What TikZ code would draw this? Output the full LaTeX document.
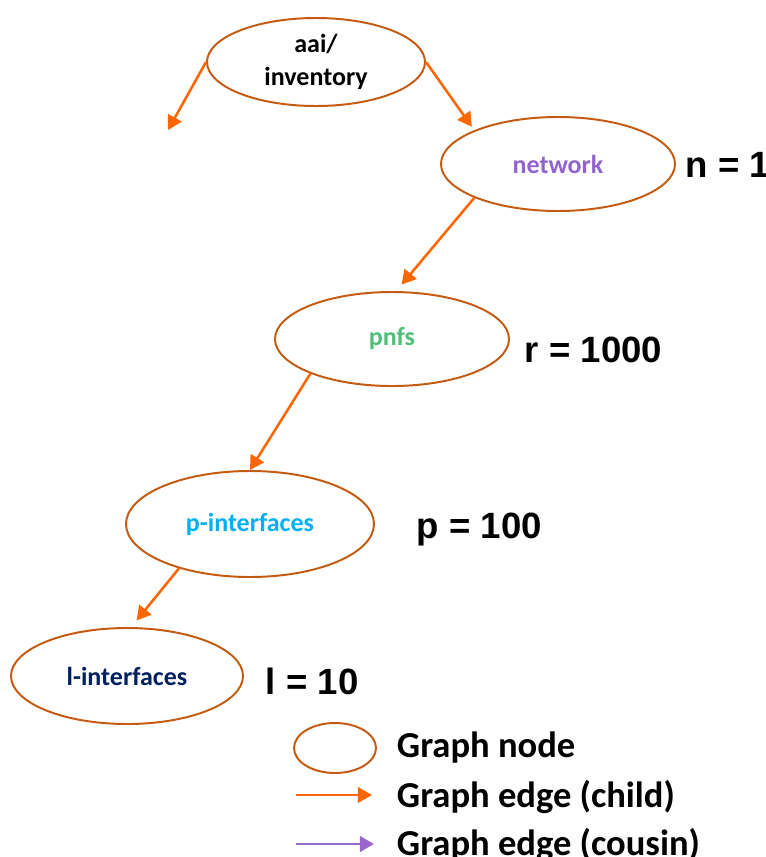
\documentclass[tikz,border=0pt]{standalone}
\usepackage{fontspec}
\setmainfont{Carlito}
\newfontfamily\labelfont{Liberation Sans}
\usetikzlibrary{shapes.geometric,arrows.meta}
\definecolor{nodeborder}{RGB}{197,90,17}
\definecolor{childorange}{RGB}{255,102,0}
\definecolor{cousinpurple}{RGB}{153,102,204}
\definecolor{netpurple}{RGB}{146,98,208}
\definecolor{pnfsgreen}{RGB}{80,190,120}
\definecolor{pintblue}{RGB}{0,176,240}
\definecolor{lintnavy}{RGB}{0,32,96}
\begin{document}
\begin{tikzpicture}[
        x=0.025cm, y=-0.025cm,
        graphnode/.style={ellipse, draw=nodeborder, line width=1.4pt, inner sep=0pt, align=center,
            font=\fontsize{18.5}{23}\selectfont\bfseries},
        child/.style={-{Triangle[length=10pt,width=11pt]}, draw=childorange, line width=1.8pt},
        cousin/.style={-{Triangle[length=10pt,width=11pt]}, draw=cousinpurple, line width=1.8pt},
        count/.style={anchor=west, font=\fontsize{26}{30}\labelfont\bfseries},
        legend/.style={anchor=west, font=\fontsize{26}{30}\selectfont\bfseries}
    ]
        \useasboundingbox (0,0) rectangle (765,857);

% Graph nodes
        \node[graphnode, minimum width=218*0.025cm, minimum height=88*0.025cm] (aai) at (316,62) {aai/\\inventory};
        \node[graphnode, minimum width=234*0.025cm, minimum height=94*0.025cm, text=netpurple] (network) at (558,164) {network};
        \node[graphnode, minimum width=234*0.025cm, minimum height=94*0.025cm, text=pnfsgreen] (pnfs) at (392,339) {pnfs};
        \node[graphnode, minimum width=248*0.025cm, minimum height=106*0.025cm, text=pintblue] (pint) at (250,524) {p-interfaces};
        \node[graphnode, minimum width=232*0.025cm, minimum height=96*0.025cm, text=lintnavy] (lint) at (127,676) {l-interfaces};
        \coordinate (open) at (168,130);

% Child edges
        \draw[child] (aai.west) -- (open);
        \draw[child, shorten >=3pt] (aai.east) -- (network.158);
        \draw[child, shorten >=6pt] (network.-158) -- (pnfs.85);
        \draw[child] (pnfs.-157) -- (pint.north);
        \draw[child, shorten >=6pt] (pint.-148) -- (lint.85);

% Counts
        \node[count] (ncount) at (681,165) {n = 1};
        \node[count] (rcount) at (520,350) {r = 1000};
        \node[count] (pcount) at (412,530) {p = 100};
        \node[count] (lcount) at (261,681) {l = 10};

% Legend
        \node[graphnode, minimum width=82*0.025cm, minimum height=50*0.025cm] (legnode) at (335,748) {};
        \node[legend] (legnodetext) at (392,748) {Graph node};
        \coordinate (childstart) at (296,795);
        \coordinate (childend) at (372,795);
        \draw[child] (childstart) -- (childend);
        \node[legend] (legchildtext) at (392,797) {Graph edge (child)};
        \coordinate (cousinstart) at (296,844);
        \coordinate (cousinend) at (374,844);
        \draw[cousin] (cousinstart) -- (cousinend);
        \node[legend] (legcousintext) at (392,845) {Graph edge (cousin)};

    \end{tikzpicture}
\end{document}
